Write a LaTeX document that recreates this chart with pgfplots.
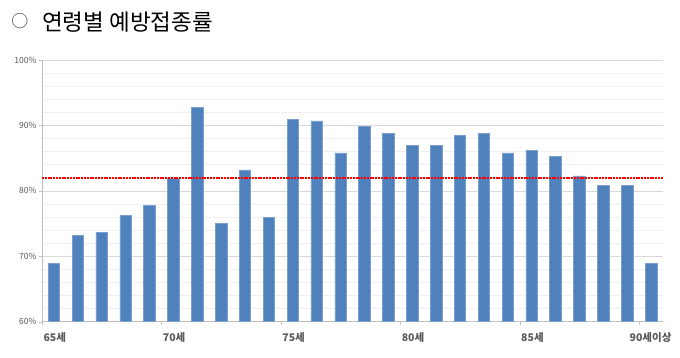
\documentclass[border=0pt]{standalone}
\usepackage{fontspec}
\setmainfont{Noto Sans CJK KR}
\usepackage{pgfplots}
\pgfplotsset{compat=1.18}
\definecolor{barblue}{HTML}{4F81BD}
\definecolor{txtgray}{HTML}{595959}
\begin{document}
\begin{tikzpicture}
\path[use as bounding box] (-42pt,-35.3pt) rectangle (638pt,321.7pt);
\node[font=\fontsize{17}{20}\selectfont, inner sep=0pt, text=black!75] at (-22pt,300.5pt) {○};
\node[anchor=west, font=\fontsize{22.5}{26}\selectfont, inner sep=0pt] at (0pt,300pt) {연령별 예방접종률};
\begin{axis}[
  at={(0pt,0pt)}, anchor=south west,
  scale only axis, width=621pt, height=261.7pt,
  xmin=-0.5, xmax=25.5, ymin=60, ymax=100,
  axis lines*=left,
  axis line style={draw=black!25, line width=0.8pt},
  ytick={60,70,80,90,100},
  yticklabels={60\%,70\%,80\%,90\%,100\%},
  minor y tick num=4,
  ymajorgrids, yminorgrids,
  major grid style={draw=black!15, line width=0.7pt},
  minor grid style={draw=black!6, line width=0.6pt},
  tick align=outside,
  major tick length=3pt, minor tick length=0pt,
  tick style={draw=black!25},
  yticklabel style={font=\fontsize{8.5}{10}\selectfont, text=txtgray, xshift=1pt},
  xtick={-0.5,4.5,9.5,14.5,19.5},
  xticklabels={65세,70세,75세,80세,85세},
  extra x ticks={24.5},
  extra x tick labels={90세이상},
  extra x tick style={grid=none, xticklabel style={xshift=-11pt}},
  xticklabel style={anchor=north west, font=\bfseries\fontsize{10.5}{12}\selectfont, text=txtgray, xshift=-2pt, yshift=-4pt},
]
\addplot[ybar, bar width=11.5pt, bar shift=0pt, fill=barblue, draw=barblue!75!white, line width=0.6pt] coordinates {
(0,68.9) (1,73.2) (2,73.7) (3,76.2) (4,77.8) (5,81.9) (6,92.8) (7,75.0) (8,83.2) (9,76.0)
(10,90.9) (11,90.7) (12,85.8) (13,89.8) (14,88.8) (15,87.0) (16,87.0) (17,88.5) (18,88.8) (19,85.8)
(20,86.2) (21,85.3) (22,82.3) (23,80.8) (24,80.8) (25,68.9)};
\addplot[red, line width=1.5pt, dash pattern=on 2pt off 0.8pt, mark=none] table {
x y
-0.5 82
25.5 82
};
\end{axis}
\end{tikzpicture}
\end{document}
